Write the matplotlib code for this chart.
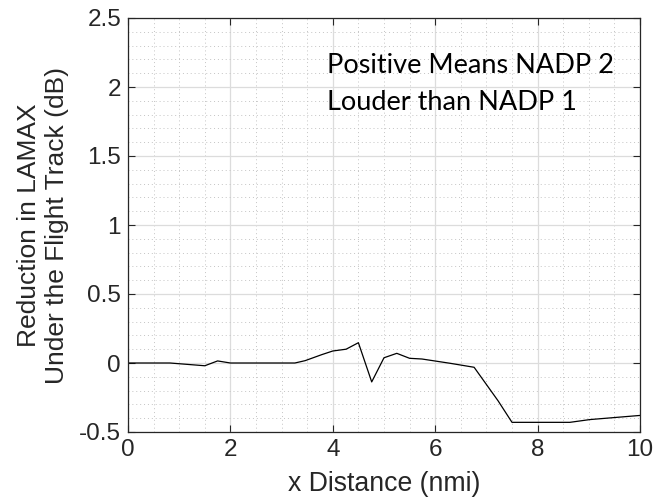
import numpy as np
import matplotlib.pyplot as plt
from matplotlib.ticker import MultipleLocator

# distance along track (nmi) and LAMAX difference (dB)
x_dist = [0.0, 0.82, 1.5, 1.75, 2.0, 3.26, 3.46, 3.78, 4.0, 4.26, 4.5, 4.76,
          5.0, 5.25, 5.5, 5.74, 6.29, 6.76, 7.23, 7.5, 8.63, 9.02, 10.0]
reduction = [0.0, 0.0, -0.02, 0.015, 0.0, 0.0, 0.017, 0.06, 0.087, 0.1, 0.147, -0.137,
             0.038, 0.07, 0.034, 0.029, -0.002, -0.031, -0.275, -0.43, -0.43, -0.41, -0.38]

plt.rcParams['font.family'] = ['Liberation Sans', 'DejaVu Sans']

fig = plt.figure(figsize=(6.54, 5.0), dpi=100)
ax = fig.add_axes([0.1957, 0.136, 0.7829, 0.828])

ax.plot(x_dist, reduction, color='black', linewidth=0.9)

ax.set_xlim(0, 10)
ax.set_ylim(-0.5, 2.5)
ax.xaxis.set_major_locator(MultipleLocator(2))
ax.xaxis.set_minor_locator(MultipleLocator(0.5))
ax.yaxis.set_major_locator(MultipleLocator(0.5))
ax.yaxis.set_minor_locator(MultipleLocator(0.1))
ax.yaxis.set_major_formatter(plt.FuncFormatter(lambda v, p: '%g' % round(v, 2)))

ax.grid(which='major', color='#dcdcdc', linestyle='-', linewidth=0.9)
ax.grid(which='minor', color='#c4c4c4', linestyle=(0, (1, 3)), linewidth=0.7)
ax.set_axisbelow(True)

ax.tick_params(which='major', direction='in', length=5, width=0.8,
               top=True, right=True, labelsize=17.5, colors='#262626', pad=5)
ax.tick_params(which='minor', length=0, top=True, right=True)
for s in ax.spines.values():
    s.set_color('#262626')
    s.set_linewidth(0.9)

ax.set_xlabel('x Distance (nmi)', fontsize=19.2, color='#262626', labelpad=7)
ax.set_ylabel('Reduction in LAMAX\nUnder the Flight Track (dB)', fontsize=19,
              color='#262626', labelpad=7, linespacing=1.25)

ax.text(3.89, 2.025, 'Positive Means NADP 2\nLouder than NADP 1',
        family=['Lato', 'DejaVu Sans'], fontsize=19.5, va='center', ha='left',
        linespacing=1.6, color='black')

fig.savefig('out.png', dpi=100)
